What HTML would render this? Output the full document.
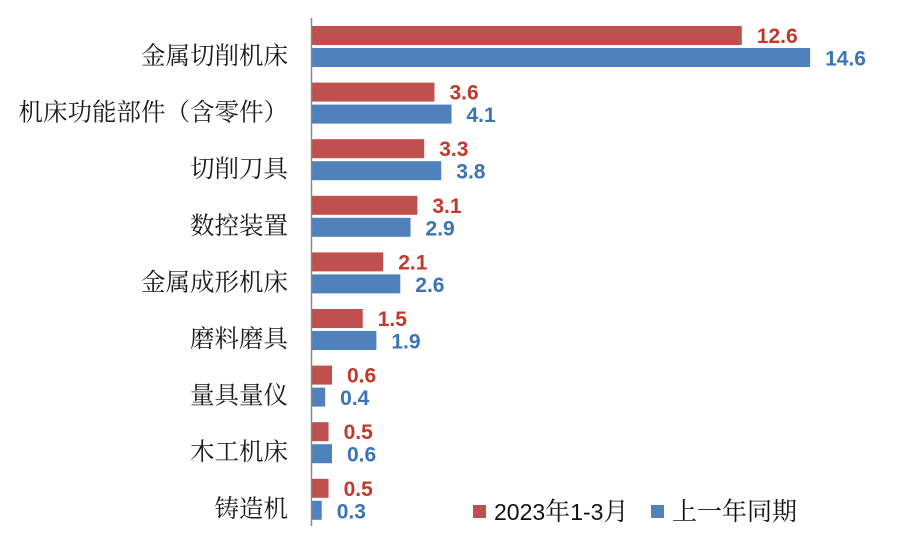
<!DOCTYPE html>
<html><head><meta charset="utf-8"><style>
html,body{margin:0;padding:0;background:#fff;}
svg{display:block;}
.cat{font-family:"Noto Serif CJK SC","Liberation Serif",serif;font-size:24.5px;fill:#1a1a1a;}
.v{font-family:"Liberation Sans","DejaVu Sans",sans-serif;font-size:21px;font-weight:bold;}
.lg{font-family:"Liberation Sans","Noto Sans CJK SC",sans-serif;font-size:23px;fill:#111;}
.lgc{font-family:"Noto Serif CJK SC","Liberation Serif",serif;font-size:25px;fill:#111;}
</style></head><body>
<svg width="900" height="560" viewBox="0 0 900 560" xmlns="http://www.w3.org/2000/svg">
<rect width="900" height="560" fill="#fff"/>
<g id="g"></g>
<line x1="311.5" y1="18" x2="311.5" y2="526" stroke="#888" stroke-width="1.5"/>
<rect x="473" y="505" width="13" height="13" fill="#c0504d"/>
<text class="lg" x="494" y="520">2023<tspan class="lgc" font-size="23">年</tspan>1-3<tspan class="lgc" font-size="23">月</tspan></text>
<rect x="651" y="505" width="13" height="13" fill="#4f81bd"/>
<text class="lgc" x="672" y="520">上一年同期</text>
</svg>
<script>
var d=[["金属切削机床",12.6,14.6],["机床功能部件（含零件）",3.6,4.1],["切削刀具",3.3,3.8],["数控装置",3.1,2.9],["金属成形机床",2.1,2.6],["磨料磨具",1.5,1.9],["量具量仪",0.6,0.4],["木工机床",0.5,0.6],["铸造机",0.5,0.3]];
var s="",k=34.15,x0=311.5;
d.forEach(function(r,i){
 var y=26+56.6*i;
 var w1=r[1]*k,w2=r[2]*k;
 s+='<rect x="'+x0+'" y="'+y+'" width="'+w1+'" height="19" fill="#c0504d"/>';
 s+='<rect x="'+x0+'" y="'+(y+22)+'" width="'+w2+'" height="19" fill="#4f81bd"/>';
 s+='<text class="v" fill="#c0392b" x="'+(x0+w1+15)+'" y="'+(y+17)+'">'+r[1].toFixed(1)+'</text>';
 s+='<text class="v" fill="#3b73b3" x="'+(x0+w2+15)+'" y="'+(y+39.5)+'">'+r[2].toFixed(1)+'</text>';
 s+='<text class="cat" text-anchor="end" x="288" y="'+(y+38)+'">'+r[0]+'</text>';
});
document.getElementById("g").innerHTML=s;
</script>
</body></html>
